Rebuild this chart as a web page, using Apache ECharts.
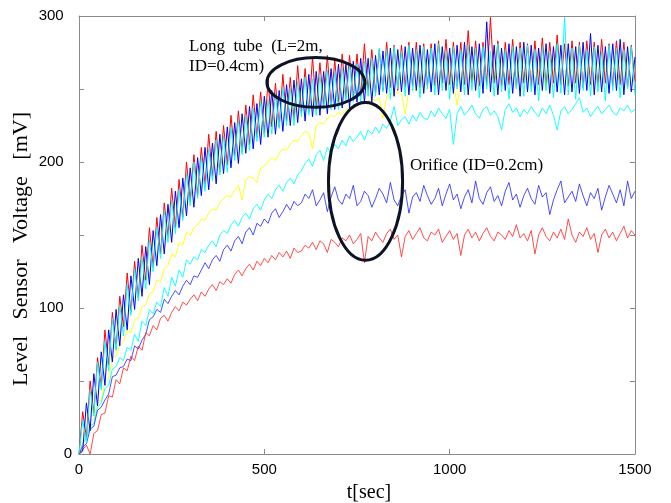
<!DOCTYPE html>
<html>
<head>
<meta charset="utf-8">
<script src="https://cdn.jsdelivr.net/npm/echarts/dist/echarts.min.js"></script>
<style>
html, body { margin: 0; padding: 0; background: #fff; }
#main { width: 671px; height: 503px; }
</style>
</head>
<body>
<div id="main"></div>
<script>
// sample times [sec]
const tSec = [
  0, 10, 20, 30, 40, 50, 60, 70, 80, 90,
  100, 110, 120, 130, 140, 150, 160, 170, 180, 190,
  200, 210, 220, 230, 240, 250, 260, 270, 280, 290,
  300, 310, 320, 330, 340, 350, 360, 370, 380, 390,
  400, 410, 420, 430, 440, 450, 460, 470, 480, 490,
  500, 510, 520, 530, 540, 550, 560, 570, 580, 590,
  600, 610, 620, 630, 640, 650, 660, 670, 680, 690,
  700, 710, 720, 730, 740, 750, 760, 770, 780, 790,
  800, 810, 820, 830, 840, 850, 860, 870, 880, 890,
  900, 910, 920, 930, 940, 950, 960, 970, 980, 990,
  1000, 1010, 1020, 1030, 1040, 1050, 1060, 1070, 1080, 1090,
  1100, 1110, 1120, 1130, 1140, 1150, 1160, 1170, 1180, 1190,
  1200, 1210, 1220, 1230, 1240, 1250, 1260, 1270, 1280, 1290,
  1300, 1310, 1320, 1330, 1340, 1350, 1360, 1370, 1380, 1390,
  1400, 1410, 1420, 1430, 1440, 1450, 1460, 1470, 1480, 1490,
  1500
]

// long tube runs [mV]
const tubeRed = [
  0, 29, 11, 50, 28, 66, 46, 85, 61, 97,
  72, 108, 87, 124, 97, 132, 107, 143, 119, 155,
  128, 162, 137, 172, 149, 182, 155, 188, 162, 200,
  173, 205, 177, 210, 184, 219, 190, 221, 193, 225,
  198, 232, 204, 235, 207, 239, 212, 246, 217, 248,
  219, 256, 224, 254, 224, 260, 228, 258, 229, 266,
  234, 264, 234, 272, 236, 268, 239, 273, 238, 270,
  241, 274, 244, 273, 243, 274, 245, 281, 248, 277,
  247, 277, 249, 282, 251, 280, 249, 280, 251, 282,
  252, 282, 251, 281, 252, 281, 252, 283, 254, 284,
  253, 282, 252, 282, 253, 290, 254, 283, 252, 282,
  253, 299, 254, 283, 252, 282, 253, 284, 251, 282,
  254, 281, 252, 283, 253, 285, 252, 282, 254, 287,
  253, 281, 252, 283, 254, 282, 251, 283, 253, 282,
  252, 284, 254, 281, 252, 283, 253, 282, 251, 280,
  255
]
const tubeBlue = [
  0, 2, 35, 16, 55, 33, 70, 47, 85, 63,
  99, 74, 109, 85, 122, 99, 134, 108, 142, 116,
  153, 129, 164, 137, 171, 145, 180, 155, 189, 163,
  196, 169, 203, 177, 210, 181, 213, 185, 219, 192,
  224, 196, 227, 199, 233, 206, 238, 209, 240, 212,
  245, 217, 249, 219, 249, 221, 253, 225, 256, 227,
  257, 228, 260, 231, 262, 232, 262, 233, 264, 236,
  267, 237, 267, 237, 269, 241, 271, 241, 271, 241,
  273, 246, 276, 247, 278, 245, 277, 248, 279, 246,
  278, 249, 280, 247, 277, 248, 281, 246, 279, 249,
  278, 247, 280, 248, 282, 246, 279, 249, 281, 247,
  296, 248, 280, 246, 278, 249, 281, 247, 279, 245,
  282, 248, 280, 246, 278, 249, 281, 247, 279, 248,
  280, 246, 281, 248, 279, 247, 282, 249, 288, 246,
  280, 248, 279, 247, 281, 249, 284, 246, 279, 248,
  272
]
const tubeCyan = [
  0, 23, 8, 44, 26, 63, 44, 77, 57, 93,
  71, 102, 81, 116, 95, 127, 105, 135, 113, 147,
  125, 155, 134, 167, 145, 174, 151, 181, 160, 192,
  170, 200, 175, 203, 180, 209, 187, 215, 191, 218,
  193, 224, 201, 229, 205, 232, 208, 237, 214, 242,
  217, 243, 219, 247, 223, 251, 225, 251, 225, 255,
  231, 258, 232, 257, 232, 260, 236, 263, 236, 262,
  236, 265, 241, 267, 241, 267, 241, 269, 245, 271,
  245, 278, 248, 277, 243, 279, 250, 276, 245, 280,
  249, 277, 244, 279, 250, 278, 246, 281, 249, 276,
  243, 279, 250, 277, 246, 280, 249, 278, 244, 279,
  250, 276, 245, 281, 248, 277, 243, 279, 250, 278,
  245, 280, 248, 277, 242, 279, 249, 276, 244, 281,
  247, 299, 246, 278, 243, 280, 249, 277, 245, 279,
  248, 276, 242, 280, 249, 278, 244, 277, 250, 279,
  246
]

// intermediate runs [mV]
const midYellow = [
  0, 8, 12, 22, 24, 36, 37, 50, 52, 66,
  67, 75, 77, 85, 83, 92, 93, 101, 102, 110,
  111, 119, 118, 127, 129, 137, 135, 145, 143, 152,
  150, 155, 157, 161, 160, 165, 168, 167, 172, 175,
  177, 176, 181, 184, 174, 188, 190, 189, 186, 196,
  197, 200, 203, 201, 206, 209, 208, 212, 215, 214,
  218, 221, 220, 209, 225, 227, 226, 230, 232, 231,
  234, 233, 236, 238, 237, 239, 241, 240, 242, 243,
  242, 244, 230, 245, 247, 246, 248, 247, 233, 249,
  250, 249, 251, 252, 250, 253, 254, 252, 255, 254,
  256, 255, 239, 256, 258, 257, 256, 258, 259, 257,
  259, 260, 258, 261, 259, 260, 262, 260, 261, 262,
  261, 263, 262, 261, 263, 262, 249, 263, 262, 264,
  263, 262, 264, 263, 265, 263, 264, 262, 265, 264,
  263, 265, 264, 266, 264, 263, 265, 266, 264, 265,
  264
]
const midCyan = [
  0, 7, 11, 19, 21, 32, 35, 45, 47, 58,
  60, 66, 64, 73, 71, 82, 77, 91, 88, 99,
  96, 104, 101, 114, 108, 121, 115, 126, 121, 133,
  130, 135, 133, 140, 138, 143, 146, 142, 150, 153,
  151, 157, 160, 156, 162, 165, 161, 168, 171, 167,
  174, 178, 175, 181, 184, 180, 186, 189, 185, 191,
  194, 199, 202, 197, 205, 208, 201, 210, 206, 212,
  209, 215, 211, 218, 214, 217, 221, 215, 222, 219,
  224, 220, 226, 223, 228, 238, 225, 229, 231, 226,
  232, 228, 234, 230, 229, 235, 231, 237, 233, 230,
  236, 212, 233, 238, 232, 235, 239, 233, 230, 236,
  238, 232, 235, 231, 222, 236, 240, 234, 237, 231,
  236, 233, 238, 234, 231, 237, 233, 239, 232, 222,
  235, 238, 233, 236, 240, 244, 234, 237, 231, 235,
  238, 233, 236, 239, 234, 232, 237, 235, 239, 234,
  236
]

// orifice runs [mV]
const orfBlue = [
  0, 5, 7, 17, 19, 30, 32, 37, 41, 53,
  54, 59, 60, 65, 64, 74, 72, 78, 82, 92,
  94, 99, 97, 106, 103, 108, 112, 109, 115, 119,
  116, 122, 121, 126, 131, 127, 133, 136, 132, 140,
  143, 139, 146, 149, 144, 152, 155, 150, 158, 156,
  161, 158, 165, 168, 162, 166, 171, 167, 173, 170,
  172, 178, 175, 181, 170, 174, 179, 166, 176, 183,
  174, 171, 178, 175, 184, 170, 173, 180, 177, 169,
  175, 182, 178, 172, 186, 174, 170, 177, 181, 165,
  176, 179, 173, 184, 177, 171, 175, 182, 170, 178,
  185, 174, 178, 168, 176, 181, 172, 187, 175, 171,
  179, 183, 173, 177, 170, 180, 186, 174, 178, 169,
  177, 182, 175, 171, 184, 176, 179, 164, 174, 181,
  187, 172, 176, 180, 173, 185, 177, 170, 179, 175,
  182, 167, 176, 184, 178, 172, 181, 170, 187, 175,
  180
]
const orfRed = [
  0, 3, 6, 0, 14, 16, 27, 28, 40, 39,
  51, 48, 59, 57, 67, 64, 74, 71, 83, 81,
  88, 85, 93, 95, 91, 97, 101, 98, 104, 102,
  106, 109, 105, 111, 108, 113, 116, 112, 118, 116,
  120, 117, 123, 126, 122, 127, 130, 126, 132, 129,
  134, 131, 136, 133, 138, 135, 139, 134, 141, 138,
  139, 143, 141, 145, 140, 146, 144, 138, 147, 145,
  142, 148, 146, 150, 144, 147, 151, 131, 149, 146,
  152, 148, 145, 151, 154, 147, 150, 135, 149, 153,
  147, 151, 155, 148, 146, 152, 150, 154, 145, 149,
  153, 147, 151, 136, 150, 154, 148, 152, 146, 151,
  155, 149, 146, 152, 150, 147, 153, 149, 157, 148,
  151, 146, 153, 137, 150, 155, 149, 146, 152, 148,
  154, 147, 161, 150, 145, 152, 149, 155, 147, 151,
  138, 150, 154, 148, 152, 146, 151, 156, 148, 153,
  150
]

// annotation ellipses in data units: centre (t, mV), radii (sec, mV)
const ellipseNotes = [
  { t: 639, v: 254.5, rt: 132, rv: 17 },
  { t: 773, v: 186.7, rt: 100, rv: 54 }
]

const serif = '"Liberation Serif", "Times New Roman", serif'
const sans = '"Liberation Sans", Arial, sans-serif'
const axisGray = '#8a8a8a'

function pairs(vals) {
  return tSec.map((t, i) => [t, vals[i]])
}

function lineSeries(vals, color, w) {
  return {
    type: 'line',
    data: pairs(vals),
    symbol: 'none',
    silent: true,
    lineStyle: { width: w, color: color },
    itemStyle: { color: color }
  }
}

function axisBase(pos) {
  return {
    type: 'value',
    position: pos,
    axisLine: { show: true, onZero: false, lineStyle: { color: axisGray, width: 1 } },
    axisTick: { show: true, inside: true, length: 5, lineStyle: { color: axisGray } },
    splitLine: { show: false }
  }
}

let chart = echarts.init(document.getElementById('main'), null, { renderer: 'canvas' })

let option = {
  animation: false,
  backgroundColor: '#fff',
  grid: { left: 79, right: 36, top: 16, bottom: 49, containLabel: false, outerBoundsMode: 'none' },
  xAxis: [
    Object.assign(axisBase('bottom'), {
      min: 0, max: 1500, interval: 500,
      axisLabel: { color: '#000', fontSize: 15, fontFamily: sans, margin: 8, formatter: v => String(v) }
    }),
    Object.assign(axisBase('top'), {
      min: 0, max: 1500, interval: 500,
      axisLabel: { show: false }
    })
  ],
  yAxis: [
    Object.assign(axisBase('left'), {
      min: 0, max: 300, interval: 50,
      axisLabel: {
        color: '#000', fontSize: 15, fontFamily: sans, margin: 7,
        formatter: function (v) {
          if (v % 100) return ''
          return v === 0 ? '0' : v + '  '
        }
      }
    }),
    Object.assign(axisBase('right'), {
      min: 0, max: 300, interval: 50,
      axisLabel: { show: false }
    })
  ],
  series: [
    lineSeries(midYellow, '#ffff00', 0.9),
    lineSeries(midCyan, '#00ffff', 0.9),
    lineSeries(orfBlue, '#2020ff', 0.8),
    lineSeries(orfRed, '#ff2020', 0.8),
    lineSeries(tubeRed, '#ff0000', 1),
    lineSeries(tubeBlue, '#0000ff', 1),
    lineSeries(tubeCyan, '#00ffff', 1)
  ]
}
chart.setOption(option)

// ellipses placed through the axes
let ellipses = ellipseNotes.map(e => {
  let c = chart.convertToPixel({ gridIndex: 0 }, [e.t, e.v])
  let ex = chart.convertToPixel({ gridIndex: 0 }, [e.t + e.rt, e.v])
  let ey = chart.convertToPixel({ gridIndex: 0 }, [e.t, e.v + e.rv])
  return {
    type: 'ellipse',
    silent: true,
    z: 100,
    shape: { cx: c[0], cy: c[1], rx: Math.abs(ex[0] - c[0]), ry: Math.abs(c[1] - ey[1]) },
    style: { fill: 'none', stroke: '#0c1324', lineWidth: 3 }
  }
})

let texts = [
  { type: 'text', x: 189, y: 47, z: 101, style: { text: 'Long  tube  (L=2m,', font: '17px ' + serif, fill: '#000', verticalAlign: 'middle' } },
  { type: 'text', x: 189, y: 67, z: 101, style: { text: 'ID=0.4cm)', font: '17px ' + serif, fill: '#000', verticalAlign: 'middle' } },
  { type: 'text', x: 410, y: 166, z: 101, style: { text: 'Orifice (ID=0.2cm)', font: '17px ' + serif, fill: '#000', verticalAlign: 'middle' } },
  { type: 'text', x: 369, y: 493, z: 101, style: { text: 't[sec]', font: '20px ' + serif, fill: '#000', align: 'center', verticalAlign: 'middle' } },
  { type: 'text', x: 21, y: 249, rotation: Math.PI / 2, z: 101, style: { text: 'Level   Sensor   Voltage   [mV]', font: '22px ' + serif, fill: '#000', align: 'center', verticalAlign: 'middle' } }
]

chart.setOption({ graphic: ellipses.concat(texts) })
</script>
</body>
</html>
